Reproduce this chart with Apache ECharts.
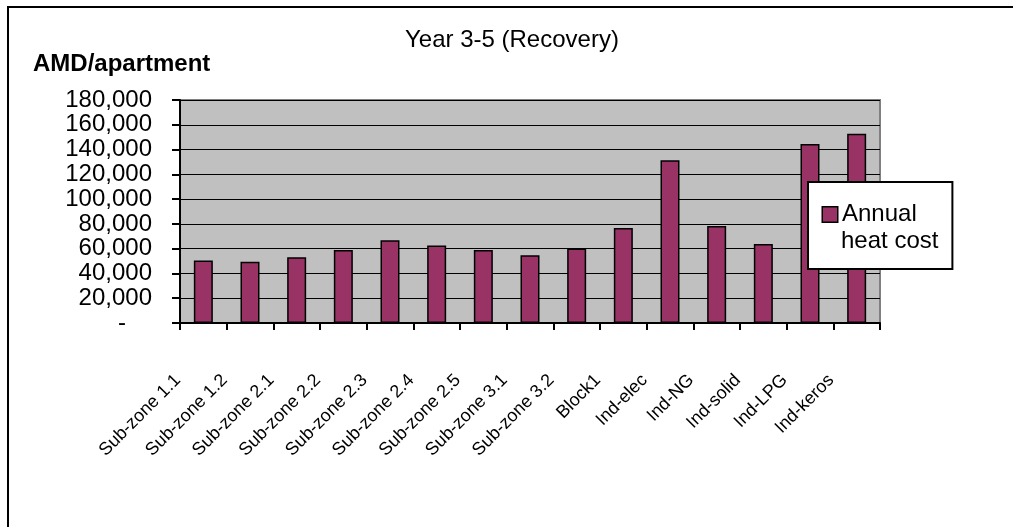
<!DOCTYPE html>
<html>
<head>
<meta charset="utf-8">
<script src="https://cdn.jsdelivr.net/npm/echarts@6/dist/echarts.min.js"></script>
<style>html,body{margin:0;padding:0;background:#fff;}#c{width:1013px;height:527px;}</style>
</head>
<body>
<div id="c"></div>
<script>
const categories = ['Sub-zone 1.1','Sub-zone 1.2','Sub-zone 2.1','Sub-zone 2.2','Sub-zone 2.3','Sub-zone 2.4','Sub-zone 2.5','Sub-zone 3.1','Sub-zone 3.2','Block1','Ind-elec','Ind-NG','Ind-solid','Ind-LPG','Ind-keros'];
const seriesName = 'Annual heat cost';
const values = [50500, 49500, 53000, 59000, 66800, 62600, 59000, 54600, 60200, 76700, 131400, 78300, 63800, 144500, 152800];
const chartTitle = 'Year 3-5 (Recovery)';
const yAxisTitle = 'AMD/apartment';
const yTicks = { min: 0, max: 180000, interval: 20000 };

const font = 'Arial, "Liberation Sans", sans-serif';
const chart = echarts.init(document.getElementById('c'), null, { renderer: 'canvas' });
chart.setOption({
  animation: false,
  backgroundColor: '#ffffff',
  graphic: [{
    type: 'rect', z: -10, silent: true,
    shape: { x: 8, y: 7, width: 1100, height: 600 },
    style: { fill: 'none', stroke: '#000', lineWidth: 2 }
  }],
  title: [
    { text: chartTitle, left: 405, top: 28, padding: 0,
      textStyle: { fontFamily: font, fontSize: 24, fontWeight: 'normal', color: '#000' } },
    { text: yAxisTitle, left: 33, top: 52, padding: 0,
      textStyle: { fontFamily: font, fontSize: 24, fontWeight: 'bold', color: '#000' } }
  ],
  legend: {
    left: 808, top: 182,
    orient: 'vertical',
    icon: 'none', itemWidth: 0, itemHeight: 0, itemGap: 0,
    padding: [19, 14, 14, 10],
    backgroundColor: '#fff', borderColor: '#000', borderWidth: 2, borderRadius: 0,
    data: [seriesName],
    formatter: function (name) {
      const parts = name.split(' ');
      return '{m|}{t|' + parts[0] + '}\n{s|}{t|' + parts.slice(1).join(' ') + '}';
    },
    textStyle: {
      fontFamily: font, fontSize: 24, color: '#000', lineHeight: 27,
      rich: {
        m: { width: 14, height: 14, backgroundColor: '#993366', borderColor: '#000', borderWidth: 1.5, padding: 0 },
        s: { width: 13 },
        t: { fontFamily: font, fontSize: 24, color: '#000', lineHeight: 27, padding: [0, 0, 0, 5] }
      }
    }
  },
  grid: {
    left: 180, right: 133, top: 100, bottom: 204,
    show: true, backgroundColor: '#c0c0c0', borderColor: '#808080', borderWidth: 2,
    containLabel: false
  },
  xAxis: {
    type: 'category',
    data: categories,
    boundaryGap: true,
    axisLine: { show: true, lineStyle: { color: '#000', width: 2 } },
    axisTick: { show: true, alignWithLabel: false, length: 7, lineStyle: { color: '#000', width: 2 } },
    axisLabel: {
      interval: 0, rotate: 45, margin: 29,
      fontFamily: font, fontSize: 18, color: '#000',
      padding: [0, 36, 0, 0]
    },
    splitLine: { show: false }
  },
  yAxis: {
    type: 'value',
    min: yTicks.min, max: yTicks.max, interval: yTicks.interval,
    axisLine: { show: true, lineStyle: { color: '#000', width: 2 } },
    axisTick: { show: true, length: 8, lineStyle: { color: '#000', width: 2 } },
    axisLabel: {
      margin: 28, fontFamily: font, fontSize: 24, color: '#000',
      formatter: function (v) {
        if (v === 0) return '{z|-}';
        return v.toLocaleString('en-US');
      },
      rich: { z: { fontFamily: font, fontSize: 24, color: '#000', padding: [0, 26, 0, 0] } }
    },
    splitLine: { show: true, lineStyle: { color: '#000', width: 1 } }
  },
  series: [{
    name: seriesName,
    type: 'bar',
    data: values,
    barWidth: 19,
    itemStyle: { color: '#993366', borderColor: '#000', borderWidth: 1.5 }
  }]
});
</script>
</body>
</html>
